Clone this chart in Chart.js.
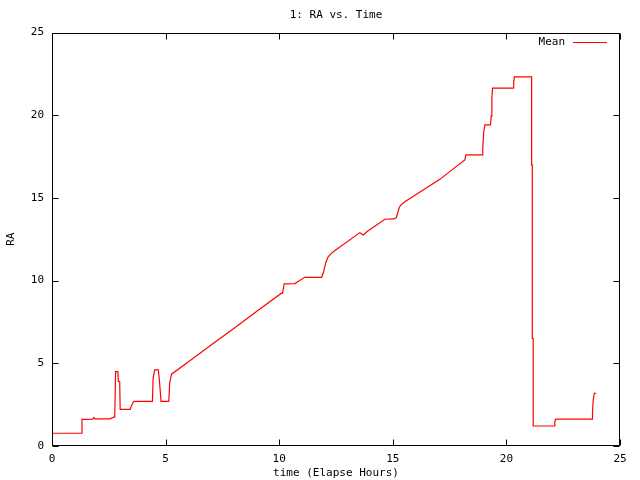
<!DOCTYPE html>
<html>
<head>
<meta charset="utf-8">
<script src="https://cdn.jsdelivr.net/npm/chart.js@4/dist/chart.umd.min.js"></script>
<style>
html,body{margin:0;padding:0;background:#fff;}
#wrap{width:640px;height:480px;}
</style>
</head>
<body>
<div id="wrap"><canvas id="c" width="640" height="480"></canvas></div>
<script>
const titleText = "1: RA vs. Time";
const xLabel = "time (Elapse Hours)";
const yLabel = "RA";
const seriesName = "Mean";
const xTicks = [0, 5, 10, 15, 20, 25];
const yTicks = [0, 5, 10, 15, 20, 25];

const times = [
  0.00, 1.30, 1.32, 1.80, 1.84, 1.90, 2.55, 2.72, 2.76, 2.80, 2.90, 2.92, 2.98, 3.00,
  3.44, 3.50, 3.60, 4.42, 4.45, 4.52, 4.68, 4.72, 4.80, 5.14, 5.18, 5.26,
  6.07, 7.00, 8.00, 9.00, 10.10, 10.15, 10.22, 10.69, 10.90, 11.13, 11.87,
  11.95, 12.05, 12.16, 12.38, 13.55, 13.70, 13.87, 14.65, 15.05, 15.16, 15.28,
  15.34, 15.53, 17.07, 18.17, 18.22, 18.93, 18.96, 19.00, 19.05, 19.30, 19.33,
  19.36, 19.39, 20.30, 20.32, 20.35, 21.11, 21.11, 21.14, 21.14, 21.18, 21.18,
  22.10, 22.13, 22.17, 23.77, 23.79, 23.82, 23.87, 23.96
];
const raMean = [
  0.77, 0.77, 1.61, 1.62, 1.72, 1.64, 1.64, 1.74, 1.74, 4.50, 4.50, 3.90, 3.90, 2.22,
  2.22, 2.44, 2.70, 2.70, 4.10, 4.60, 4.60, 4.10, 2.70, 2.70, 3.80, 4.34,
  5.16, 6.10, 7.11, 8.13, 9.24, 9.24, 9.80, 9.82, 10.00, 10.20, 10.20,
  10.50, 11.10, 11.45, 11.75, 12.90, 12.76, 12.97, 13.71, 13.73, 13.83, 14.40,
  14.55, 14.77, 16.12, 17.30, 17.60, 17.60, 18.00, 18.95, 19.42, 19.42, 19.96,
  21.03, 21.64, 21.64, 21.94, 22.32, 22.32, 17.00, 17.00, 6.50, 6.50, 1.21,
  1.21, 1.47, 1.63, 1.63, 1.98, 2.78, 3.19, 3.19
];

const points = times.map((t, i) => ({x: t, y: raMean[i]}));
const FONT = {family: "'DejaVu Sans Mono', monospace", size: 11};

const framePlugin = {
  id: 'gnuFrame',
  afterDatasetsDraw(chart) {
    const {ctx, chartArea: a, scales} = chart;
    const xs = scales.x, ys = scales.y;
    ctx.save();
    ctx.strokeStyle = '#000';
    ctx.lineWidth = 1;
    const L = Math.round(a.left) + 0.5, R = Math.round(a.right) - 0.5;
    const T = Math.round(a.top) + 0.5, B = Math.round(a.bottom) - 0.5;
    ctx.beginPath();
    ctx.rect(L, T, R - L, B - T);
    const tl = 6;
    xTicks.forEach(v => {
      const px = Math.round(xs.getPixelForValue(v)) + 0.5;
      ctx.moveTo(px, B); ctx.lineTo(px, B - tl);
      ctx.moveTo(px, T); ctx.lineTo(px, T + tl);
    });
    yTicks.forEach(v => {
      const py = Math.round(ys.getPixelForValue(v)) + 0.5;
      ctx.moveTo(L, py); ctx.lineTo(L + tl, py);
      ctx.moveTo(R, py); ctx.lineTo(R - tl, py);
    });
    ctx.stroke();
    // legend inside plot (gnuplot style)
    const ds = chart.data.datasets[0];
    const ly = Math.round(a.top + 9.5) + 0.5;
    ctx.font = `${FONT.size}px ${FONT.family}`;
    ctx.fillStyle = '#000';
    ctx.textAlign = 'right';
    ctx.textBaseline = 'middle';
    ctx.fillText(ds.label, a.right - 55, ly);
    ctx.strokeStyle = ds.borderColor;
    ctx.beginPath();
    ctx.moveTo(a.right - 47, ly);
    ctx.lineTo(a.right - 13, ly);
    ctx.stroke();
    ctx.restore();
  }
};

Chart.defaults.color = '#000';
Chart.defaults.font.family = FONT.family;
Chart.defaults.font.size = FONT.size;

new Chart(document.getElementById('c'), {
  type: 'line',
  data: {
    datasets: [{
      label: seriesName,
      data: points,
      borderColor: '#ff0000',
      backgroundColor: '#ff0000',
      borderWidth: 1.2,
      pointRadius: 0,
      tension: 0,
      fill: false
    }]
  },
  options: {
    responsive: false,
    animation: false,
    devicePixelRatio: 1,
    layout: {padding: {left: 0, right: 20, top: 0, bottom: 0}},
    plugins: {
      legend: {display: false},
      tooltip: {enabled: false},
      title: {
        display: true,
        text: titleText,
        fullSize: false,
        color: '#000',
        font: {family: FONT.family, size: 11, weight: 'normal', lineHeight: 1.2},
        padding: {top: 9, bottom: 10.3}
      }
    },
    scales: {
      x: {
        type: 'linear',
        min: 0, max: 25,
        afterBuildTicks: s => { s.ticks = xTicks.map(v => ({value: v})); },
        afterFit: s => { s.height = 34; },
        grid: {display: false, drawTicks: false},
        border: {display: false},
        ticks: {padding: 7, maxRotation: 0, color: '#000', font: FONT},
        title: {display: true, text: xLabel, color: '#000', font: FONT, padding: {top: 0, bottom: 0}}
      },
      y: {
        type: 'linear',
        min: 0, max: 25,
        afterBuildTicks: s => { s.ticks = yTicks.map(v => ({value: v})); },
        afterFit: s => { s.width = 52; },
        grid: {display: false, drawTicks: false},
        border: {display: false},
        ticks: {padding: 8, color: '#000', font: FONT},
        title: {display: true, text: yLabel, color: '#000', font: FONT, padding: {top: 5, bottom: 0}}
      }
    }
  },
  plugins: [framePlugin]
});
</script>
</body>
</html>
